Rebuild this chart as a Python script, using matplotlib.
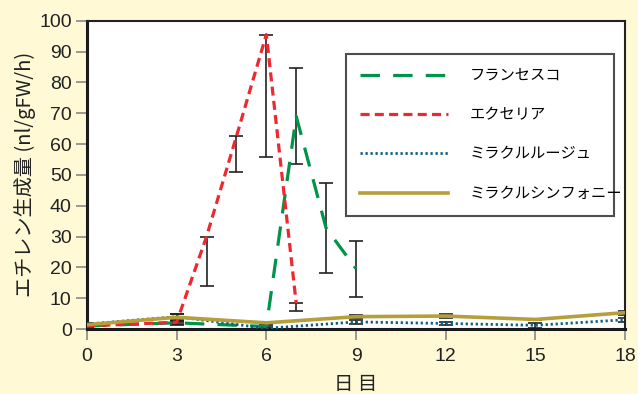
import matplotlib
matplotlib.use("Agg")
import matplotlib.pyplot as plt

# ---- data ----
days_fr = [0, 3, 6, 7, 8, 9]
francesco = [1.0, 2.0, 0.8, 69.0, 32.7, 19.6]
francesco_err = [0.5, 0.5, 0.4, 15.5, 14.5, 9.1]

days_ex = [0, 3, 4, 5, 6, 7]
excelia = [1.0, 2.2, 30.0, 62.5, 95.5, 8.3]
excelia_err_low = [0.5, 1.0, 16.2, 11.5, 39.8, 2.4]

days_long = [0, 3, 6, 9, 12, 15, 18]
miracle_rouge = [1.6, 4.0, 0.2, 2.3, 1.8, 1.2, 3.0]
miracle_rouge_err = [0.4, 1.0, 0.3, 0.6, 0.6, 0.8, 0.6]
miracle_symphony = [1.4, 3.8, 2.0, 4.0, 4.2, 3.1, 5.3]
miracle_symphony_err = [0.4, 1.2, 0.3, 0.4, 0.6, 0.3, 0.6]

labels = ["フランセスコ", "エクセリア", "ミラクルルージュ", "ミラクルシンフォニー"]
xticks = [0, 3, 6, 9, 12, 15, 18]
yticks = [0, 10, 20, 30, 40, 50, 60, 70, 80, 90, 100]

plt.rcParams['lines.scale_dashes'] = False
BG = '#FFF9D6'
c_green = '#00934A'
c_red = '#EE2830'
c_blue = '#0B5E88'
c_gold = '#B59F3B'

num_font = ['Liberation Sans', 'DejaVu Sans']
jp_font = ['Noto Sans CJK JP', 'DejaVu Sans']

fig = plt.figure(figsize=(6.38, 3.94), dpi=100, facecolor=BG)
ax = fig.add_axes([87/638, 1 - 329/394, 538/638, (329 - 20.7)/394])
ax.set_facecolor('white')

eb_kw = dict(fmt='none', ecolor='#222222', elinewidth=1.2, capsize=5, capthick=1.2, zorder=2)
ax.errorbar(days_fr, francesco, yerr=francesco_err, **eb_kw)
ax.errorbar(days_ex, excelia, yerr=[excelia_err_low, [0]*len(excelia)], **eb_kw)
ax.errorbar(days_long, miracle_rouge, yerr=miracle_rouge_err, **eb_kw)
ax.errorbar(days_long, miracle_symphony, yerr=miracle_symphony_err, **eb_kw)

l1, = ax.plot(days_fr, francesco, color=c_green, lw=2.3, dashes=(14, 9.5), zorder=3)
l2, = ax.plot(days_ex, excelia, color=c_red, lw=2.3, dashes=(6.5, 3.8), zorder=4)
l3, = ax.plot(days_long, miracle_rouge, color=c_blue, lw=2.0, dashes=(1.6, 2.0), zorder=5)
l4, = ax.plot(days_long, miracle_symphony, color=c_gold, lw=2.6, zorder=6)

ax.set_xlim(0, 18)
ax.set_ylim(0, 100)
ax.set_xticks(xticks)
ax.set_yticks(yticks)
ax.set_xticklabels([str(v) for v in xticks], family=num_font, fontsize=14)
ax.set_yticklabels([str(v) for v in yticks], family=num_font, fontsize=14)
ax.tick_params(axis='both', direction='out', length=8, width=1.2, color='#888888', labelcolor='#222222')
ax.tick_params(axis='x', pad=6)
ax.tick_params(axis='y', pad=3)

for side in ['left', 'bottom']:
    ax.spines[side].set_linewidth(2.2)
    ax.spines[side].set_color('#1a1a1a')
for side in ['top', 'right']:
    ax.spines[side].set_linewidth(1.5)
    ax.spines[side].set_color('#222222')

ax.set_ylabel("エチレン生成量 (nl/gFW/h)", family=jp_font, fontsize=14.5, color='#222222', labelpad=2)
ax.set_xlabel("日 目", family=jp_font, fontsize=14, color='#222222', labelpad=6)

leg = ax.legend([l1, l2, l3, l4], labels, loc='upper left',
                bbox_to_anchor=(0.481, 0.893, 0.498, 0.0), mode='expand',
                prop={'family': jp_font, 'size': 11}, handlelength=5.8, handletextpad=1.4,
                labelspacing=1.45, borderpad=0.9, borderaxespad=0, fancybox=False,
                frameon=True, edgecolor='#222222')
leg.get_frame().set_linewidth(1.5)

fig.savefig('out.png', dpi=100, facecolor=BG)
